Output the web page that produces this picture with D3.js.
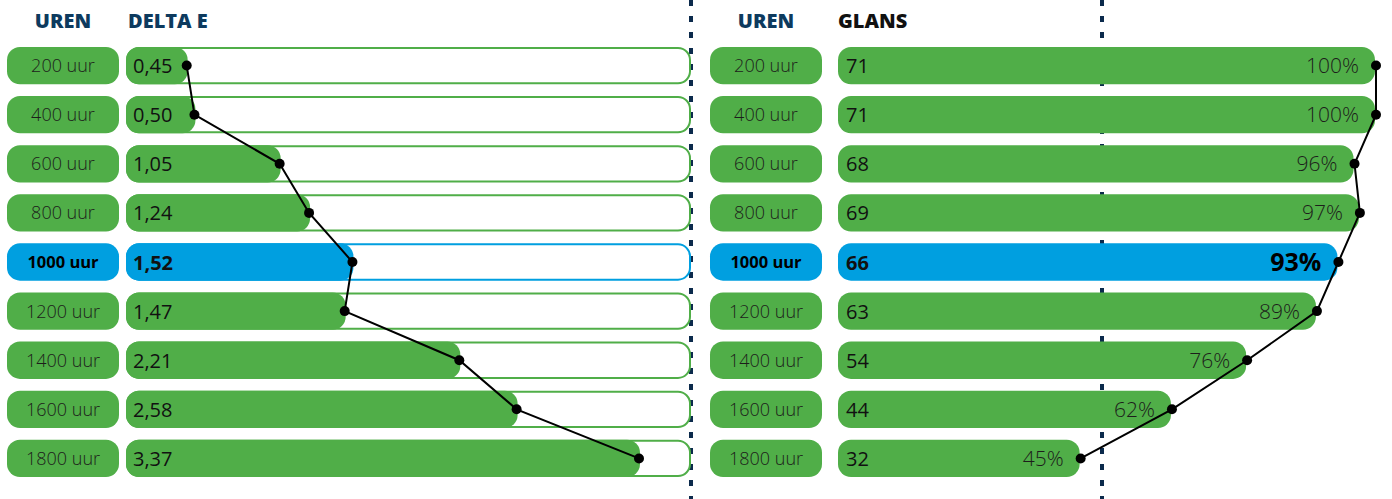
<!DOCTYPE html>
<html>
<head>
<meta charset="utf-8">
<script src="https://cdn.jsdelivr.net/npm/d3@7"></script>
<style>
  body { margin: 0; background: #fff; }
  svg { display: block; font-family: "Open Sans", sans-serif; }
</style>
</head>
<body>
<svg id="chart"></svg>
<script>
const svgWidth = 1392;
const svgHeight = 499;

const green = "#50ae48";
const blue = "#009fe0";
const navy = "#0d3a5e";

// data
const hours = ["200 uur", "400 uur", "600 uur", "800 uur", "1000 uur", "1200 uur", "1400 uur", "1600 uur", "1800 uur"];
const deltaE = [0.45, 0.50, 1.05, 1.24, 1.52, 1.47, 2.21, 2.58, 3.37];
const gloss = [71, 71, 68, 69, 66, 63, 54, 44, 32];
const glossPct = [100, 100, 96, 97, 93, 89, 76, 62, 45];
const highlight = "1000 uur";

const svg = d3.select("#chart")
    .attr("width", svgWidth)
    .attr("height", svgHeight);

// rows
const yScale = d3.scaleBand()
    .domain(hours)
    .range([42, 482])
    .paddingInner(0.24)
    .paddingOuter(0.1);
const bh = yScale.bandwidth();

const xLeft = d3.scaleLinear().domain([0, 3.37]).range([118, 640]);
const xRight = d3.scaleLinear().domain([0, 100]).range([838, 1375]);

const fillFor = h => h === highlight ? blue : green;

// dashed separators
[691, 1102].forEach(x => {
    svg.append("line")
        .attr("x1", x).attr("x2", x)
        .attr("y1", 0).attr("y2", svgHeight)
        .attr("stroke", "#0b2a4c")
        .attr("stroke-width", 4)
        .attr("stroke-dasharray", "6,10");
});

// headers
const header = (x, anchor, color, label) => svg.append("text")
    .attr("x", x).attr("y", 28).attr("text-anchor", anchor)
    .style("font-size", "20px").style("font-weight", 800)
    .attr("fill", color).text(label);
header(63, "middle", navy, "UREN");
header(128, "start", navy, "DELTA E");
header(766, "middle", navy, "UREN");
header(838, "start", "#111", "GLANS");

// hour pills, both panels
[{ x: 7, w: 112 }, { x: 710, w: 112 }].forEach(p => {
    const g = svg.append("g");
    g.selectAll("rect").data(hours).enter().append("rect")
        .attr("x", p.x).attr("y", d => yScale(d))
        .attr("width", p.w).attr("height", bh)
        .attr("rx", 13)
        .attr("fill", fillFor);
    g.selectAll("text").data(hours).enter().append("text")
        .attr("x", p.x + p.w / 2).attr("y", d => yScale(d) + bh / 2)
        .attr("dy", "0.36em")
        .attr("text-anchor", "middle")
        .style("font-size", d => d === highlight ? "16.5px" : "18px")
        .style("font-weight", d => d === highlight ? 700 : 300)
        .attr("fill", d => d === highlight ? "#000" : "#1d1d1b")
        .text(d => d);
});

// left panel: tracks + bars
const left = svg.append("g");
left.selectAll(".track").data(hours).enter().append("rect")
    .attr("class", "track")
    .attr("x", 127).attr("y", d => yScale(d) + 1)
    .attr("width", 691 - 128).attr("height", bh - 2)
    .attr("rx", 12)
    .attr("fill", "#fff")
    .attr("stroke", fillFor)
    .attr("stroke-width", 2);
left.selectAll(".bar").data(hours).enter().append("rect")
    .attr("class", "bar")
    .attr("x", 126).attr("y", d => yScale(d))
    .attr("width", (d, i) => xLeft(deltaE[i]) - 126).attr("height", bh)
    .attr("rx", 13)
    .attr("fill", fillFor);
left.selectAll(".val").data(hours).enter().append("text")
    .attr("class", "val")
    .attr("x", 133).attr("y", d => yScale(d) + bh / 2)
    .attr("dy", "0.38em")
    .style("font-size", "20px")
    .style("font-weight", d => d === highlight ? 700 : 400)
    .attr("fill", "#111")
    .text((d, i) => d3.format(".2f")(deltaE[i]).replace(".", ","));

// right panel: bars
const right = svg.append("g");
right.selectAll(".bar").data(hours).enter().append("rect")
    .attr("class", "bar")
    .attr("x", 838).attr("y", d => yScale(d))
    .attr("width", (d, i) => xRight(glossPct[i]) - 838).attr("height", bh)
    .attr("rx", 13)
    .attr("fill", fillFor);
right.selectAll(".val").data(hours).enter().append("text")
    .attr("class", "val")
    .attr("x", 846).attr("y", d => yScale(d) + bh / 2)
    .attr("dy", "0.38em")
    .style("font-size", "20px")
    .style("font-weight", d => d === highlight ? 700 : 400)
    .attr("fill", "#111")
    .text((d, i) => gloss[i]);
right.selectAll(".pct").data(hours).enter().append("text")
    .attr("class", "pct")
    .attr("x", (d, i) => xRight(glossPct[i]) - 16).attr("y", d => yScale(d) + bh / 2)
    .attr("dy", "0.36em")
    .attr("text-anchor", "end")
    .style("font-size", d => d === highlight ? "25px" : "21px")
    .style("font-weight", d => d === highlight ? 700 : 300)
    .attr("fill", d => d === highlight ? "#000" : "#1d1d1b")
    .text((d, i) => glossPct[i] + "%");

// connecting lines with dots
function trend(g, xs) {
    const pts = hours.map((h, i) => [xs(i), yScale(h) + bh / 2]);
    g.append("path")
        .attr("d", d3.line()(pts))
        .attr("fill", "none")
        .attr("stroke", "#000")
        .attr("stroke-width", 2);
    g.selectAll(".dot").data(pts).enter().append("circle")
        .attr("class", "dot")
        .attr("cx", d => d[0]).attr("cy", d => d[1])
        .attr("r", 5)
        .attr("fill", "#000");
}
trend(left, i => xLeft(deltaE[i]) - 1);
trend(right, i => xRight(glossPct[i]) + 1);
</script>
</body>
</html>
